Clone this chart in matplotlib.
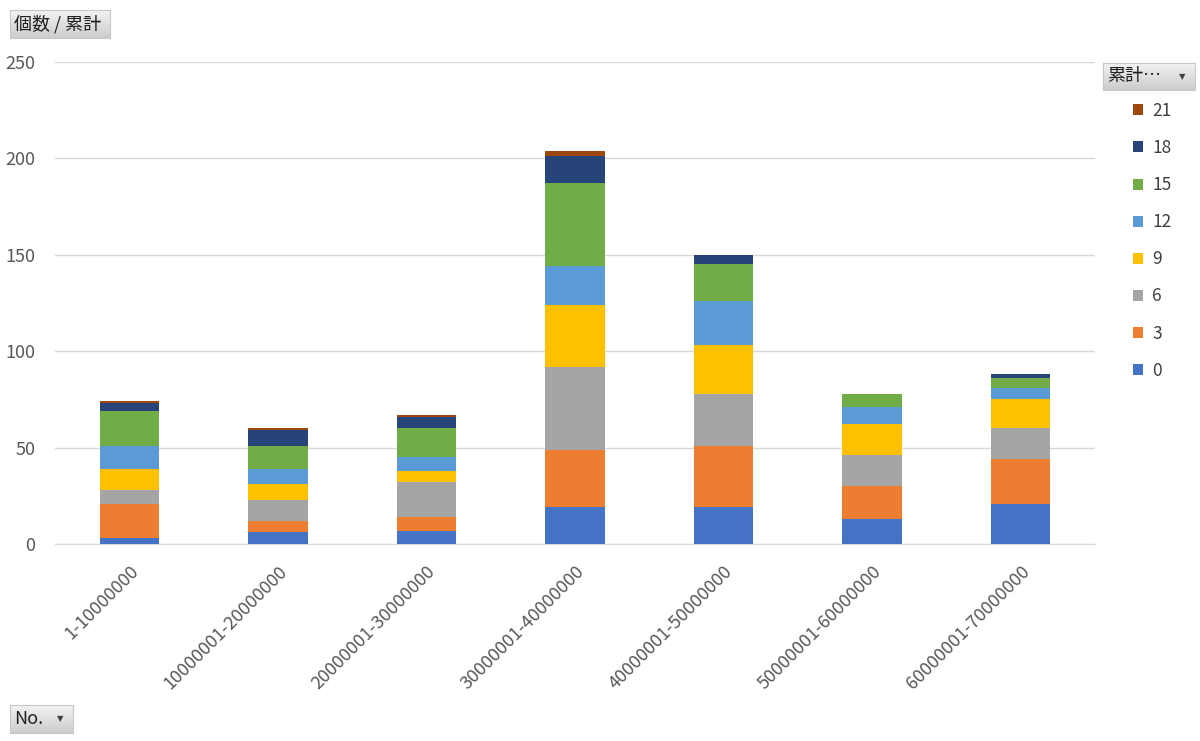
import matplotlib
matplotlib.use("Agg")
import matplotlib.pyplot as plt
from matplotlib.patches import Patch
import numpy as np

plt.rcParams['font.family'] = ['Noto Sans CJK JP', 'DejaVu Sans']

# ranges of No. (x axis)
ranges = ["1-10000000", "10000001-20000000", "20000001-30000000",
          "30000001-40000000", "40000001-50000000", "50000001-60000000",
          "60000001-70000000"]

# series = 累計 values, counts per range
series_names = ["0", "3", "6", "9", "12", "15", "18", "21"]
s0 = [3, 6, 7, 19, 19, 13, 21]
s3 = [18, 6, 7, 30, 32, 17, 23]
s6 = [7, 11, 18, 43, 27, 16, 16]
s9 = [11, 8, 6, 32, 25, 16, 15]
s12 = [12, 8, 7, 20, 23, 9, 6]
s15 = [18, 12, 15, 43, 19, 7, 5]
s18 = [4, 8, 6, 14, 5, 0, 2]
s21 = [1, 1, 1, 3, 0, 0, 0]
series = [s0, s3, s6, s9, s12, s15, s18, s21]

colors = ["#4472C4", "#ED7D31", "#A5A5A5", "#FFC000",
          "#5B9BD5", "#70AD47", "#264478", "#9E480E"]

W, H = 1200, 741
fig = plt.figure(figsize=(W / 100, H / 100), dpi=100)
ax = fig.add_axes([55 / W, 1 - 544 / H, 1040 / W, 482 / H])

x = np.arange(len(ranges))
bottom = np.zeros(len(ranges))
for vals, c in zip(series, colors):
    ax.bar(x, vals, width=0.4, bottom=bottom, color=c, zorder=3)
    bottom += np.array(vals)

ax.set_xlim(-0.5, len(ranges) - 0.5)
ax.set_ylim(0, 250)
ax.set_yticks([0, 50, 100, 150, 200, 250])
ax.yaxis.grid(True, color="#d9d9d9", lw=1, zorder=0)
for s in ["top", "right", "left"]:
    ax.spines[s].set_visible(False)
ax.spines["bottom"].set_color("#d9d9d9")
ax.tick_params(axis="both", length=0, colors="#595959", labelsize=13)
ax.tick_params(axis="y", pad=14)
ax.set_xticks(x)
ax.set_xticklabels(ranges, rotation=45, ha="right", rotation_mode="anchor")
ax.tick_params(axis="x", pad=13)


def button(x0, y0, x1, y1, label, arrow_x=None):
    # grey gradient pivot-field button, pixel coords from top-left
    bax = fig.add_axes([x0 / W, 1 - y1 / H, (x1 - x0) / W, (y1 - y0) / H])
    grad = np.linspace(0.95, 0.80, 50).reshape(-1, 1)
    bax.imshow(grad, cmap="gray", vmin=0, vmax=1, aspect="auto",
               extent=[0, 1, 0, 1])
    bax.set_xticks([])
    bax.set_yticks([])
    for sp in bax.spines.values():
        sp.set_color("#c8c8c8")
    fig.text((x0 + 4) / W, 1 - (y0 + y1) / 2 / H, label, fontsize=13,
             va="center", ha="left", color="#202020")
    if arrow_x is not None:
        fig.text(arrow_x / W, 1 - (y0 + y1) / 2 / H, "▼", fontsize=6,
                 va="center", ha="center", color="#404040",
                 family="DejaVu Sans")


button(10, 10, 110, 38, "個数 / 累計")
button(1103, 63, 1195, 90, "累計…", arrow_x=1182)
button(10, 705, 73, 733, "No.", arrow_x=60)

# legend (reversed, like Excel)
handles = [Patch(facecolor=c, edgecolor="none") for c in colors][::-1]
leg = fig.legend(handles, series_names[::-1], loc="upper left",
                 bbox_to_anchor=(1133 / W, 1 - 102 / H), frameon=False,
                 fontsize=12.5, handlelength=0.6, handleheight=0.6,
                 handletextpad=0.5, labelspacing=1.1, labelcolor="#404040",
                 borderpad=0, borderaxespad=0)

fig.savefig("out.png", dpi=100)
